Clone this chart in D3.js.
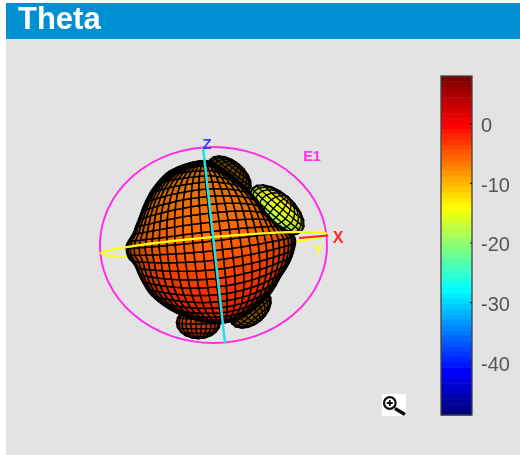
<!DOCTYPE html>
<html>
<head>
<meta charset="utf-8">
<script src="https://cdn.jsdelivr.net/npm/d3@7"></script>
<style>
  body { margin: 0; background: #fff; }
  svg { display: block; font-family: "Liberation Sans", Arial, sans-serif; }
</style>
</head>
<body>
<div id="chart"></div>
<script>
// values
const titleText = "Theta";
const colorTicks = [0, -10, -20, -30, -40];
const colorDomain = [7.9, -48.9];
const jetGain = [7.9, 0, -14, -28, -42, -48.9];
const jetColors = ["#7f0000", "#ff0000", "#ffff00", "#00ffff", "#0000ff", "#00007f"];
const colorBands = 64;

// main body of the pattern: outer gain (dB) per screen direction (deg clockwise from up)
const bodyAngle = [-180, -167.5, -151.5, -140, -127, -113, -104, -98, -90, -82, -69, -59, -47, -33, -21, -11, -2, 8, 20, 35, 58, 72, 84, 94, 104, 115, 130, 145, 160, 173, 180];
const bodyGain = [-3.4, -3.9, -3.8, -3.2, -2.2, -2.1, -1.5, 1.5, 2, -1.5, -2.8, -2, -0.5, 1.3, 1.2, 1, 0, -4.6, -8.6, -12, -14.5, -10.2, -1.4, -1.9, -3.7, -5.7, -5.3, -4.8, -3.2, -3, -3.4];
// surface colour on the body by latitude
const surfaceLat = [90, 50, 20, 0, -30, -60, -90];
const surfaceGain = [-7.5, -7, -6, -5, -3, -2, -2];

// side lobes
const lobeAngle = [13, 61, 191, 150];
const lobeReach = [-6.8, -6.5, -2.5, -6];
const lobeLong = [25, 33, 22, 24];
const lobeShort = [14, 17, 16, 16];
const lobeTilt = [38, 41, 0, -40];
const lobeGainTop = [-9, -12, -8, -8];
const lobeGainBottom = [-9, -20, -2, -9];
const lobeDim = [0.42, 1, 0.75, 0.5];

const WIDTH = 520, HEIGHT = 455;
const ORIGIN_X = 213.5, ORIGIN_Y = 245;
const RING_RX = 113.5, RING_RY = 98;
const MESH_STEP = 180 / 26;
const VIEW_ELEV = 4, VIEW_ROLL = 6.4;

const svg = d3.select("#chart").append("svg")
  .attr("width", WIDTH).attr("height", HEIGHT);

const defs = svg.append("defs");
defs.append("filter").attr("id", "soft").attr("x", "-5%").attr("y", "-5%").attr("width", "110%").attr("height", "110%")
  .append("feGaussianBlur").attr("stdDeviation", 0.6);
defs.append("filter").attr("id", "softText")
  .append("feGaussianBlur").attr("stdDeviation", 0.35);

// panel
svg.append("rect").attr("x", 6).attr("y", 3).attr("width", WIDTH - 6).attr("height", HEIGHT - 3).attr("fill", "#e3e3e3");
svg.append("rect").attr("x", 6).attr("y", 3).attr("width", WIDTH - 6).attr("height", 36).attr("fill", "#008fd1");
svg.append("text").text(titleText)
  .attr("x", 18).attr("y", 29)
  .attr("fill", "#fff").attr("font-weight", 700).attr("font-size", 31)
  .attr("filter", "url(#softText)");

// colour scales
const jet = d3.scaleLinear().domain(jetGain).range(jetColors).clamp(true);
const colorY = d3.scaleLinear().domain(colorDomain).range([76, 415]);
const bandScale = d3.scaleBand().domain(d3.range(colorBands)).range([76, 415]);
const bandGain = d3.scaleLinear().domain([0, colorBands - 1]).range(colorDomain);

const bar = svg.append("g").attr("id", "colorbar").attr("filter", "url(#softText)");
bar.selectAll("rect.band")
  .data(bandScale.domain())
  .join("rect")
  .attr("class", "band")
  .attr("x", 441).attr("width", 31)
  .attr("y", d => bandScale(d))
  .attr("height", bandScale.bandwidth() + 0.5)
  .attr("fill", d => jet(bandGain(d)));
bar.append("rect")
  .attr("x", 441).attr("y", 76).attr("width", 31).attr("height", 339)
  .attr("fill", "none").attr("stroke", "#444").attr("stroke-width", 1.3);

const colorAxis = d3.axisRight(colorY).tickValues(colorTicks).tickSize(-2).tickPadding(9);
const axisG = bar.append("g").attr("transform", "translate(472,0)").call(colorAxis);
axisG.select(".domain").remove();
axisG.selectAll("line").attr("stroke", "#222").attr("stroke-width", 1.2);
axisG.selectAll("text").attr("fill", "#555").attr("font-size", 20).attr("y", 2)
  .attr("font-family", '"Liberation Sans", Arial, sans-serif')
  .text(d => String(d));

// pattern
const rScale = d3.scaleLinear().domain([-50, 8]).range([0, 96.7]);
const outline = d3.scaleLinear().domain(bodyAngle).range(bodyGain);
const surface = d3.scaleLinear().domain(surfaceLat).range(surfaceGain);
const beam = d3.scaleLinear().domain([0, 90]).range([0, 90]);

const rad = Math.PI / 180;
const viewRotate = d3.geoRotation([20, -VIEW_ELEV, 0]);

// unit sphere point as seen by the viewer: x, y on the disc, z toward the viewer
function viewPoint(lon, lat) {
  const p = viewRotate([lon, lat]);
  const cl = Math.cos(p[1] * rad);
  return {
    x: cl * Math.sin(p[0] * rad),
    y: -Math.sin(p[1] * rad),
    z: cl * Math.cos(p[0] * rad)
  };
}

// rows bow away from the middle the way they do on the reference surface
function bowed(p, k) {
  const rho = Math.hypot(p.x, p.y);
  let a = Math.atan2(-p.y, p.x);
  a -= k * Math.sin(2 * a) * rho * rho;
  return { x: rho * Math.cos(a), y: -rho * Math.sin(a), z: p.z };
}

function meshCells(latStep, lonStep) {
  const cells = [];
  for (const lat of d3.range(-90, 90 - 0.01, latStep)) {
    for (const lon of d3.range(-180, 180 - 0.01, lonStep)) {
      cells.push({ lat, lon, latStep, lonStep });
    }
  }
  return cells.filter(c => viewPoint(c.lon + lonStep / 2, c.lat + latStep / 2).z > 0);
}

function cellCorners(c) {
  return [
    [c.lon, c.lat], [c.lon + c.lonStep, c.lat],
    [c.lon + c.lonStep, c.lat + c.latStep], [c.lon, c.lat + c.latStep]
  ];
}

const lineGen = d3.line().curve(d3.curveLinearClosed);
const pattern = svg.append("g").attr("id", "pattern").attr("filter", "url(#soft)");
const overlay = svg.append("g").attr("id", "axes").attr("filter", "url(#softText)");

function shade(gain, z, dim) {
  const c = d3.rgb(jet(gain));
  const f = (0.35 + 0.65 * Math.pow(z, 0.5)) * dim;
  return d3.rgb(c.r * f, c.g * f, c.b * f).formatHex();
}

// back half of the yellow equator ring, under everything
const equatorTilt = -5;
function ringArc(from, to) {
  return d3.range(from, to + 1, 4).map(t => {
    const ex = RING_RX * Math.cos(t * rad), ey = 7 * Math.sin(t * rad);
    const ca = Math.cos(equatorTilt * rad), sa = Math.sin(equatorTilt * rad);
    return [ORIGIN_X + ex * ca - ey * sa, ORIGIN_Y - 1 + ex * sa + ey * ca];
  });
}
const curveLine = d3.line().curve(d3.curveBasis);
pattern.append("path").attr("d", curveLine(ringArc(0, 180)))
  .attr("fill", "none").attr("stroke", "#ffff20").attr("stroke-width", 2.3);

// side lobes, behind the body
lobeAngle.forEach((angle, i) => {
  const cx = ORIGIN_X + rScale(lobeReach[i]) * Math.sin(angle * rad);
  const cy = ORIGIN_Y - rScale(lobeReach[i]) * Math.cos(angle * rad);
  const a = beam(lobeLong[i]), b = beam(lobeShort[i]);
  const ct = Math.cos(lobeTilt[i] * rad), st = Math.sin(lobeTilt[i] * rad);
  const gainAt = d3.scaleLinear().domain([-1, 1]).range([lobeGainTop[i], lobeGainBottom[i]]);
  const place = q => [cx + a * q.x * ct - b * q.y * st, cy + a * q.x * st + b * q.y * ct];

  pattern.append("g").selectAll("path")
    .data(meshCells(18, 14))
    .join("path")
    .attr("d", c => lineGen(cellCorners(c).map(q => place(viewPoint(q[0], q[1])))))
    .attr("fill", c => {
      const m = viewPoint(c.lon + c.lonStep / 2, c.lat + c.latStep / 2);
      return shade(gainAt(m.y), m.z, lobeDim[i]);
    })
    .attr("stroke", "#000").attr("stroke-width", 1.2);
});

// main body
const bodyCells = meshCells(MESH_STEP, MESH_STEP);
const BODY_BASE = 80;
function bodyPoint(lon, lat) {
  const q = bowed(viewPoint(lon, lat), 0.16);
  const ca = Math.cos(VIEW_ROLL * rad), sa = Math.sin(VIEW_ROLL * rad);
  const x = q.x * ca + q.y * sa, y = q.y * ca - q.x * sa;
  const rho = Math.hypot(x, y);
  const ang = Math.atan2(x, -y) / rad;
  // the interior stays round, only the rim takes the outline
  const r = BODY_BASE + (rScale(outline(ang)) - BODY_BASE) * Math.pow(rho, 5);
  return [ORIGIN_X + x * r, ORIGIN_Y + y * r];
}
pattern.append("g").selectAll("path")
  .data(bodyCells)
  .join("path")
  .attr("d", c => lineGen(cellCorners(c).map(q => bodyPoint(q[0], q[1]))))
  .attr("fill", c => {
    const lat = c.lat + c.latStep / 2;
    return shade(surface(lat), viewPoint(c.lon + c.lonStep / 2, lat).z, 1);
  })
  .attr("stroke", "#000").attr("stroke-width", 1.5);

// dark rim where the mesh lines crowd together
const rimLine = d3.lineRadial().curve(d3.curveCardinalClosed);
pattern.append("path")
  .attr("transform", `translate(${ORIGIN_X},${ORIGIN_Y})`)
  .attr("d", rimLine(bodyAngle.slice(0, -1).map((a, i) => [a * rad, rScale(bodyGain[i])])))
  .attr("fill", "none").attr("stroke", "#000").attr("stroke-width", 2.2);

// ring, axes and labels
overlay.append("ellipse")
  .attr("cx", ORIGIN_X).attr("cy", ORIGIN_Y).attr("rx", RING_RX).attr("ry", RING_RY)
  .attr("fill", "none").attr("stroke", "#ff2ee8").attr("stroke-width", 2);
overlay.append("path").attr("d", curveLine(ringArc(180, 360)))
  .attr("fill", "none").attr("stroke", "#ffff10").attr("stroke-width", 2.3);
overlay.append("line")
  .attr("x1", 299).attr("y1", 238).attr("x2", 328).attr("y2", 235.5)
  .attr("stroke", "#ff2020").attr("stroke-width", 1.8);
overlay.append("line")
  .attr("x1", 203).attr("y1", 147).attr("x2", 225).attr("y2", 343)
  .attr("stroke", "#20e0e8").attr("stroke-width", 2.5);

const labelData = [
  { t: "Z", x: 207, y: 149, c: "#3a3aff", s: 15 },
  { t: "X", x: 338, y: 243, c: "#ff2a2a", s: 16 },
  { t: "Y", x: 318, y: 254, c: "#ffff30", s: 15 },
  { t: "E1", x: 312, y: 160.5, c: "#ff30f0", s: 14.5 }
];
overlay.selectAll("text")
  .data(labelData)
  .join("text")
  .text(d => d.t)
  .attr("x", d => d.x).attr("y", d => d.y)
  .attr("fill", d => d.c).attr("font-size", d => d.s)
  .attr("font-weight", 700).attr("text-anchor", "middle");

// zoom icon
const icon = svg.append("g").attr("id", "zoom-icon").attr("filter", "url(#softText)");
icon.append("rect").attr("x", 382).attr("y", 394).attr("width", 24).attr("height", 22).attr("fill", "#fff");
icon.append("circle").attr("cx", 389.8).attr("cy", 403).attr("r", 5.8)
  .attr("fill", "#fff").attr("stroke", "#111").attr("stroke-width", 2.2);
icon.append("path").attr("d", "M386.8 403H392.8M389.8 400V406").attr("stroke", "#111").attr("stroke-width", 1.8);
icon.append("path").attr("d", "M395 408.5L405 414.5").attr("stroke", "#111").attr("stroke-width", 3.4);
</script>
</body>
</html>
